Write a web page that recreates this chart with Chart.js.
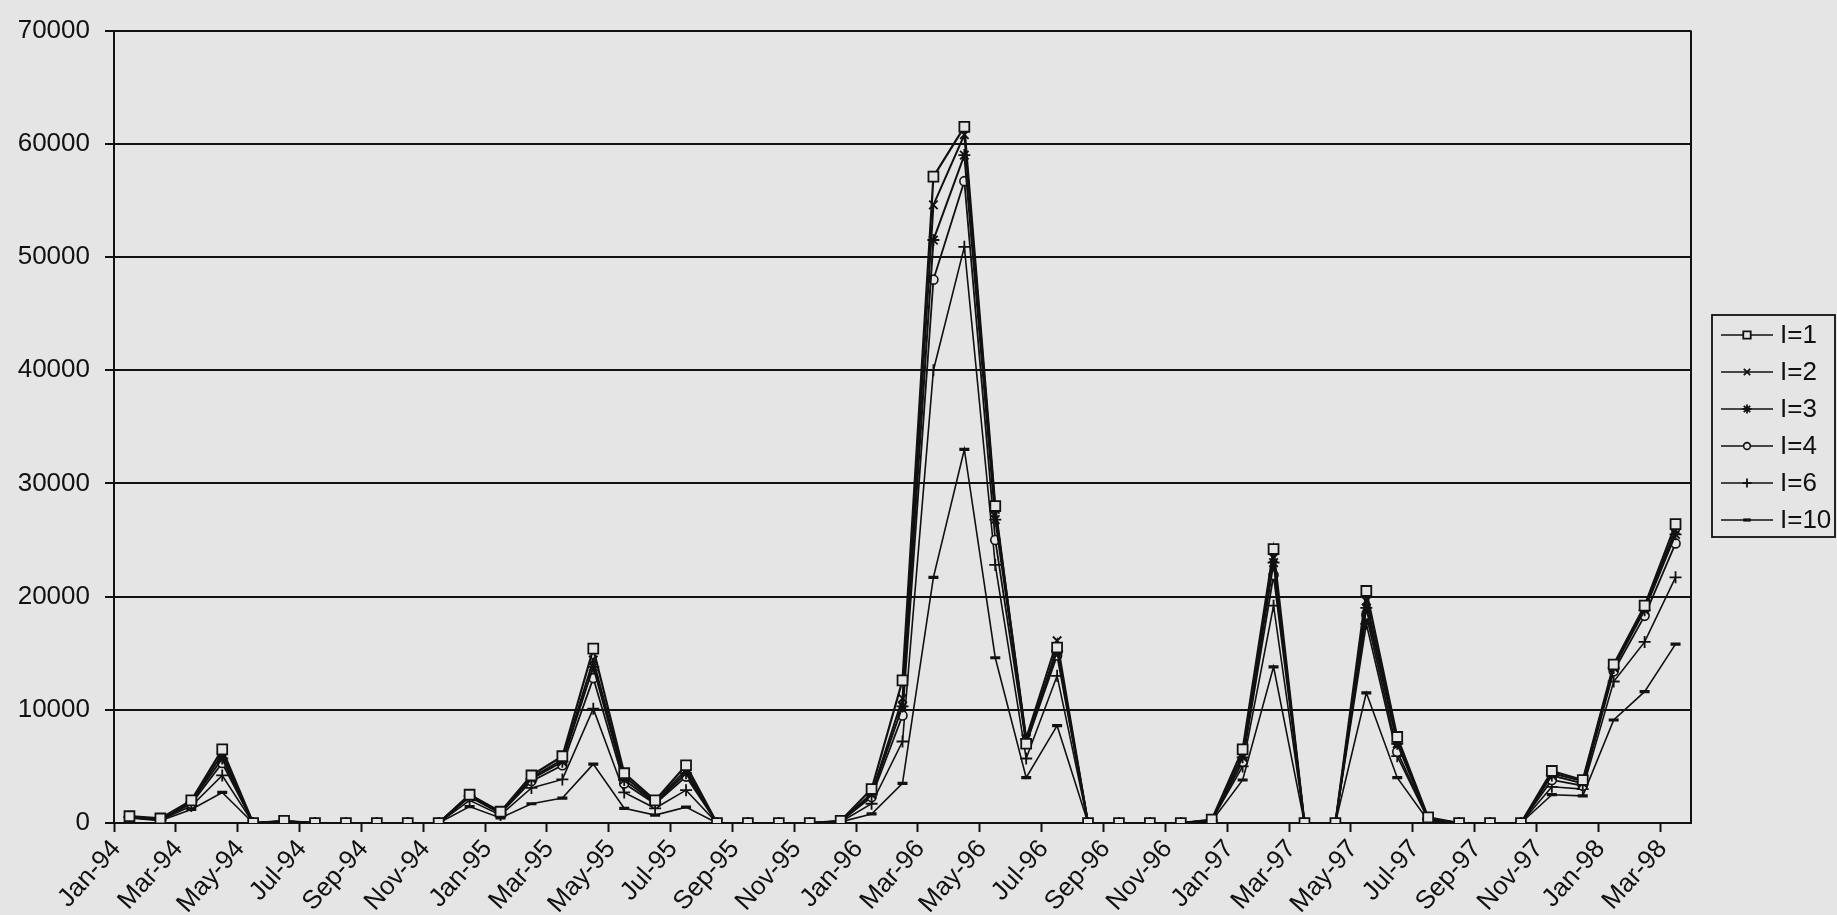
<!DOCTYPE html>
<html>
<head>
<meta charset="utf-8">
<script src="https://cdn.jsdelivr.net/npm/chart.js@4.4.1/dist/chart.umd.min.js"></script>
<style>
html,body{margin:0;padding:0;background:#e5e5e5;}
canvas{display:block;}
</style>
</head>
<body>
<canvas id="c" width="1837" height="915"></canvas>
<script>
// ---------- DATA ----------
const categories = [
  'Jan-94','Feb-94','Mar-94','Apr-94','May-94','Jun-94','Jul-94','Aug-94','Sep-94','Oct-94','Nov-94','Dec-94',
  'Jan-95','Feb-95','Mar-95','Apr-95','May-95','Jun-95','Jul-95','Aug-95','Sep-95','Oct-95','Nov-95','Dec-95',
  'Jan-96','Feb-96','Mar-96','Apr-96','May-96','Jun-96','Jul-96','Aug-96','Sep-96','Oct-96','Nov-96','Dec-96',
  'Jan-97','Feb-97','Mar-97','Apr-97','May-97','Jun-97','Jul-97','Aug-97','Sep-97','Oct-97','Nov-97','Dec-97',
  'Jan-98','Feb-98','Mar-98'
];
const seriesNames = ['I=1','I=2','I=3','I=4','I=6','I=10'];
const sI1  = [600,400,2000,6500,0,200,0,0,0,0,0,2500,1000,4200,5900,15400,4400,2000,5100,0,0,0,0,200,3000,12600,57100,61500,28000,7000,15500,0,0,0,0,300,6500,24200,0,0,20500,7600,500,0,0,0,4600,3800,14000,19200,26400];
const sI2  = [550,350,1900,6100,0,150,0,0,0,0,0,2450,950,4000,5600,14400,4100,1900,4700,0,0,0,0,150,2600,11000,54600,60800,27700,7500,16100,0,0,0,0,250,6000,23400,0,0,19600,7300,400,0,0,0,4400,3700,13800,19000,25900];
const sI3  = [550,300,1850,5700,0,150,0,0,0,0,0,2400,900,3900,5400,13800,3800,1800,4400,0,0,0,0,150,2500,10300,51500,59000,26800,7400,15200,0,0,0,0,250,5800,23000,0,0,19000,7000,400,0,0,0,4200,3500,13700,18800,25500];
const sI4  = [500,300,1700,5300,0,150,0,0,0,0,0,2300,850,3700,5100,12800,3500,1700,4100,0,0,0,0,150,2300,9500,48000,56700,25000,7000,14800,0,0,0,0,200,5400,21900,0,0,18400,6300,350,0,0,0,3800,3300,13400,18300,24700];
const sI6  = [500,250,1500,4200,0,100,0,0,0,0,0,2000,700,3100,3850,10100,2700,1300,2900,0,0,0,0,100,1700,7200,40000,50900,22800,5700,13000,0,0,0,0,200,5000,19200,0,0,17600,5900,300,0,0,0,3200,3000,12500,16000,21700];
const sI10 = [450,200,1200,2700,0,100,0,0,0,0,0,1450,450,1700,2200,5200,1300,700,1400,0,0,0,0,100,800,3500,21700,33000,14600,4000,8600,0,0,0,0,150,3800,13800,0,0,11500,4000,200,0,0,0,2500,2400,9100,11600,15800];
const yMin = 0, yMax = 70000, yStep = 10000;

// ---------- STYLE ----------
const BG = '#e5e5e5';
const INK = '#111111';
const FONT = "'Liberation Sans', Arial, sans-serif";

const seriesData = [sI1, sI2, sI3, sI4, sI6, sI10];
const markerStyles = [
  {pointStyle:'rect',     radius:7,   pbw:1.8, lw:2.2},
  {pointStyle:'crossRot', radius:6,   pbw:1.8, lw:2},
  {pointStyle:'star',     radius:6,   pbw:1.8, lw:2},
  {pointStyle:'circle',   radius:4.5, pbw:1.6, lw:1.8},
  {pointStyle:'cross',    radius:6,   pbw:1.8, lw:1.6},
  {pointStyle:'line',     radius:5,   pbw:3.2, lw:1.6}
];

const datasets = seriesNames.map((name, i) => ({
  label: name,
  data: seriesData[i],
  borderColor: INK,
  borderWidth: markerStyles[i].lw,
  tension: 0,
  fill: false,
  pointStyle: markerStyles[i].pointStyle,
  pointRadius: markerStyles[i].radius,
  pointBorderWidth: markerStyles[i].pbw,
  pointBorderColor: INK,
  pointBackgroundColor: BG,
  pointHoverRadius: markerStyles[i].radius
}));

const bgPlugin = {
  id: 'bg',
  beforeDraw(chart) {
    const ctx = chart.ctx;
    ctx.save();
    ctx.fillStyle = BG;
    ctx.fillRect(0, 0, chart.width, chart.height);
    ctx.restore();
  }
};

const framePlugin = {
  id: 'frame',
  afterDraw(chart) {
    const a = chart.chartArea, ctx = chart.ctx;
    ctx.save();
    ctx.strokeStyle = INK;
    ctx.lineWidth = 2;
    ctx.beginPath();
    ctx.moveTo(a.right, a.top);
    ctx.lineTo(a.right, a.bottom);
    ctx.stroke();
    ctx.restore();
  }
};

const legendPlugin = {
  id: 'boxLegend',
  afterDraw(chart) {
    const ctx = chart.ctx;
    const L = 1712, T = 315, R = 1835, B = 537;
    ctx.save();
    ctx.strokeStyle = INK;
    ctx.lineWidth = 1.8;
    ctx.strokeRect(L, T, R - L, B - T);
    chart.data.datasets.forEach((ds, i) => {
      const y = 335 + i * 37;
      ctx.beginPath();
      ctx.moveTo(1721, y);
      ctx.lineTo(1773, y);
      ctx.lineWidth = 1.6;
      ctx.strokeStyle = INK;
      ctx.stroke();
      ctx.fillStyle = BG;
      ctx.strokeStyle = INK;
      ctx.lineWidth = ds.pointBorderWidth;
      Chart.helpers.drawPoint(ctx, {pointStyle: ds.pointStyle, radius: ds.pointRadius * 0.75, borderWidth: ds.pointBorderWidth, rotation: 0}, 1747, y);
      ctx.fillStyle = INK;
      ctx.font = '26px ' + FONT;
      ctx.textBaseline = 'middle';
      ctx.textAlign = 'left';
      ctx.fillText(ds.label, 1780, y + 1);
    });
    ctx.restore();
  }
};

new Chart(document.getElementById('c'), {
  type: 'line',
  data: { labels: categories, datasets },
  plugins: [bgPlugin, framePlugin, legendPlugin],
  options: {
    responsive: false,
    animation: false,
    devicePixelRatio: 1,
    layout: { padding: { top: 22, right: 146, left: 0, bottom: 0 } },
    plugins: { legend: { display: false }, tooltip: { enabled: false } },
    elements: { line: { borderJoinStyle: 'miter' } },
    scales: {
      x: {
        type: 'category',
        offset: true,
        afterFit(scale) { scale.height = 92; },
        grid: {
          offset: true,
          drawOnChartArea: false,
          drawTicks: true,
          tickLength: 9,
          tickWidth: 2,
          tickColor: (c) => (c.index % 2 === 0 ? INK : 'rgba(0,0,0,0)')
        },
        border: { display: true, color: INK, width: 2 },
        ticks: {
          autoSkip: false,
          maxRotation: 48,
          minRotation: 48,
          labelOffset: -13,
          padding: 2,
          color: INK,
          font: { family: FONT, size: 26 },
          callback: (v, i) => (i % 2 === 0 ? categories[i] : '')
        }
      },
      y: {
        min: yMin,
        max: yMax,
        afterFit(scale) { scale.width = 114; },
        grid: {
          color: INK,
          lineWidth: 2,
          drawTicks: true,
          tickLength: 9,
          tickColor: INK
        },
        border: { display: true, color: INK, width: 2 },
        ticks: {
          stepSize: yStep,
          padding: 15,
          color: INK,
          font: { family: FONT, size: 26 },
          callback: (v) => String(v)
        }
      }
    }
  }
});
</script>
</body>
</html>
